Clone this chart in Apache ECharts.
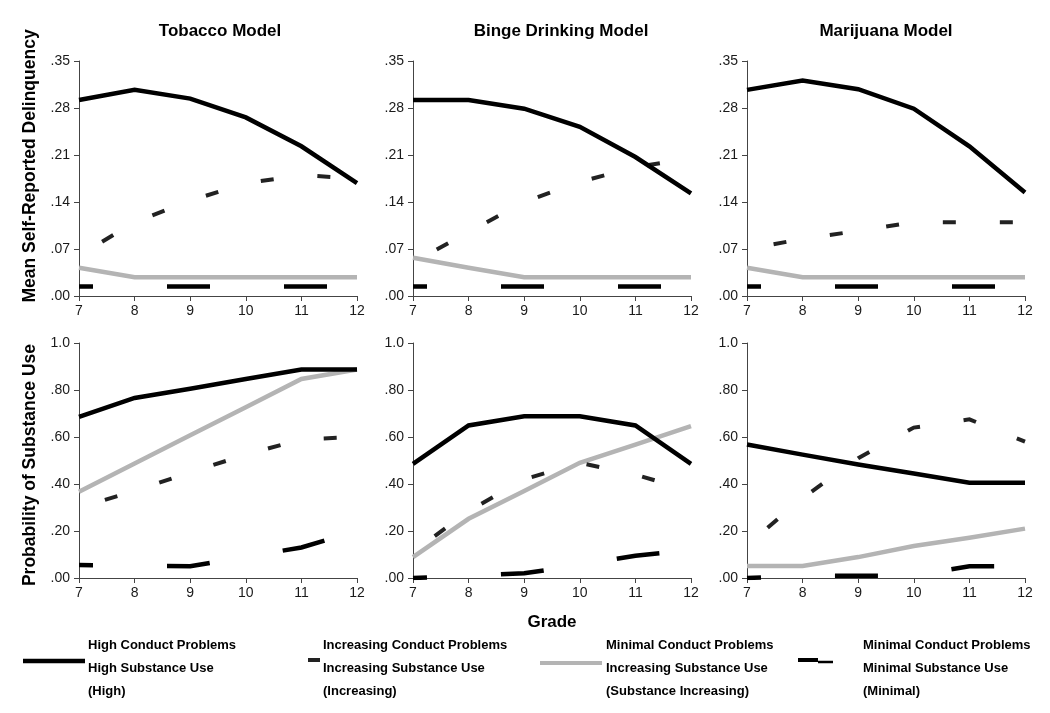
<!DOCTYPE html>
<html><head><meta charset="utf-8">
<script src="https://cdn.jsdelivr.net/npm/echarts@6/dist/echarts.min.js"></script>
<style>html,body{margin:0;padding:0;background:#fff}#c{width:1050px;height:713px}</style>
</head><body><div id="c"></div>
<script>
const grades = [7, 8, 9, 10, 11, 12];
const modelTitles = ['Tobacco Model', 'Binge Drinking Model', 'Marijuana Model'];
const yNameTop = 'Mean Self-Reported Delinquency';
const yNameBottom = 'Probability of Substance Use';
const xName = 'Grade';
const delinquencyTicks = [0, 0.07, 0.14, 0.21, 0.28, 0.35];
const probabilityTicks = [0, 0.2, 0.4, 0.6, 0.8, 1.0];

// Delinquency (top row)
const tobDelHigh = [0.292, 0.307, 0.294, 0.266, 0.223, 0.168];
const tobDelIncr = [0.060, 0.110, 0.142, 0.168, 0.180, 0.175];
const tobDelSubInc = [0.042, 0.028, 0.028, 0.028, 0.028, 0.028];
const tobDelMin = [0.014, 0.014, 0.014, 0.014, 0.014, 0.014];

const bingeDelHigh = [0.292, 0.292, 0.279, 0.252, 0.207, 0.153];
const bingeDelIncr = [0.050, 0.095, 0.140, 0.170, 0.192, 0.205];
const bingeDelSubInc = [0.057, 0.042, 0.028, 0.028, 0.028, 0.028];
const bingeDelMin = [0.014, 0.014, 0.014, 0.014, 0.014, 0.014];

const marDelHigh = [0.307, 0.321, 0.308, 0.279, 0.223, 0.154];
const marDelIncr = [0.070, 0.085, 0.097, 0.110, 0.110, 0.110];
const marDelSubInc = [0.042, 0.028, 0.028, 0.028, 0.028, 0.028];
const marDelMin = [0.014, 0.014, 0.014, 0.014, 0.014, 0.014];

// Probability of substance use (bottom row)
const tobUseHigh = [0.686, 0.766, 0.805, 0.847, 0.887, 0.887];
const tobUseIncr = [0.300, 0.370, 0.450, 0.525, 0.590, 0.600];
const tobUseSubInc = [0.367, 0.487, 0.607, 0.727, 0.847, 0.887];
const tobUseMin = [0.055, 0.052, 0.050, 0.090, 0.130, 0.200];

const bingeUseHigh = [0.486, 0.649, 0.688, 0.688, 0.649, 0.486];
const bingeUseIncr = [0.110, 0.285, 0.420, 0.490, 0.440, 0.370];
const bingeUseSubInc = [0.089, 0.252, 0.370, 0.490, 0.568, 0.646];
const bingeUseMin = [0.000, 0.010, 0.020, 0.055, 0.095, 0.120];

const marUseHigh = [0.568, 0.525, 0.483, 0.445, 0.405, 0.405];
const marUseIncr = [0.140, 0.340, 0.510, 0.640, 0.675, 0.580];
const marUseSubInc = [0.051, 0.051, 0.089, 0.136, 0.171, 0.210];
const marUseMin = [0.000, 0.010, 0.010, 0.010, 0.050, 0.050];

const legendLabels = [
  ['High Conduct Problems', 'High Substance Use', '(High)'],
  ['Increasing Conduct Problems', 'Increasing Substance Use', '(Increasing)'],
  ['Minimal Conduct Problems', 'Increasing Substance Use', '(Substance Increasing)'],
  ['Minimal Conduct Problems', 'Minimal Substance Use', '(Minimal)']
];

const panels = [
  [tobDelHigh, tobDelIncr, tobDelSubInc, tobDelMin],
  [bingeDelHigh, bingeDelIncr, bingeDelSubInc, bingeDelMin],
  [marDelHigh, marDelIncr, marDelSubInc, marDelMin],
  [tobUseHigh, tobUseIncr, tobUseSubInc, tobUseMin],
  [bingeUseHigh, bingeUseIncr, bingeUseSubInc, bingeUseMin],
  [marUseHigh, marUseIncr, marUseSubInc, marUseMin]
];

const FONT = '"Liberation Sans", Arial, sans-serif';
const lefts = [79, 413, 747];
const tops = [61, 343];
const W = 278, H = 235;

const grids = [], xAxes = [], yAxes = [], series = [];
const styles = [
  {color: '#000', width: 4.5, type: 'solid'},
  {color: '#222', width: 4, type: [13, 44], dashOffset: 30},
  {color: '#b4b4b4', width: 4.5, type: 'solid'},
  {color: '#000', width: 4.5, type: [43, 74], dashOffset: 29}
];

function fmt(v, top) {
  if (!top && Math.abs(v - 1) < 1e-9) return '1.0';
  return v.toFixed(2).replace(/^0/, '');
}

panels.forEach((p, i) => {
  const row = Math.floor(i / 3), col = i % 3;
  const top = row === 0;
  grids.push({left: lefts[col], top: tops[row], width: W, height: H, containLabel: false});
  xAxes.push({
    type: 'value', gridIndex: i, min: 7, max: 12, interval: 1,
    axisLine: {lineStyle: {color: '#444', width: 1}},
    axisTick: {show: true, length: 5, lineStyle: {color: '#444'}},
    splitLine: {show: false},
    axisLabel: {color: '#1a1a1a', fontSize: 14, fontFamily: FONT, margin: 8}
  });
  const ticks = top ? delinquencyTicks : probabilityTicks;
  yAxes.push({
    type: 'value', gridIndex: i, min: ticks[0], max: ticks[ticks.length - 1],
    interval: ticks[1] - ticks[0],
    axisLine: {show: true, lineStyle: {color: '#444', width: 1}},
    axisTick: {show: true, length: 5, lineStyle: {color: '#444'}},
    splitLine: {show: false},
    axisLabel: {color: '#1a1a1a', fontSize: 14, fontFamily: FONT, margin: 9,
      formatter: v => fmt(v, top)}
  });
  p.forEach((vals, k) => {
    const s = styles[k];
    series.push({
      type: 'line', xAxisIndex: i, yAxisIndex: i, symbol: 'none', silent: true,
      data: grades.map((g, j) => [g, vals[j]]),
      lineStyle: {color: s.color, width: s.width, type: s.type, dashOffset: s.dashOffset || 0, cap: 'butt', join: 'miter'},
      z: [4, 3, 2, 1][k]
    });
  });
});

const graphic = [];
const titleX = [220, 561, 886];
modelTitles.forEach((t, i) => graphic.push({type: 'text', x: titleX[i], y: 31,
  style: {text: t, fill: '#000', font: 'bold 17px ' + FONT, textAlign: 'center', textVerticalAlign: 'middle'}}));
graphic.push({type: 'text', x: 30, y: 166, rotation: Math.PI / 2,
  style: {text: yNameTop, fill: '#000', font: 'bold 17.5px ' + FONT, textAlign: 'center', textVerticalAlign: 'middle'}});
graphic.push({type: 'text', x: 30, y: 465, rotation: Math.PI / 2,
  style: {text: yNameBottom, fill: '#000', font: 'bold 17.5px ' + FONT, textAlign: 'center', textVerticalAlign: 'middle'}});
graphic.push({type: 'text', x: 552, y: 622,
  style: {text: xName, fill: '#000', font: 'bold 17px ' + FONT, textAlign: 'center', textVerticalAlign: 'middle'}});

// Legend
const legItems = [
  {x1: 23, x2: 85, y: 661, color: '#000', w: 4.5, tx: 88},
  {x1: 308, x2: 320, y: 660, color: '#222', w: 4, tx: 323},
  {x1: 540, x2: 602, y: 663, color: '#b4b4b4', w: 4, tx: 606},
  {x1: 798, x2: 818, y: 660, color: '#000', w: 4, tx: 863}
];
legItems.forEach((it, i) => {
  graphic.push({type: 'line', shape: {x1: it.x1, y1: it.y, x2: it.x2, y2: it.y},
    style: {stroke: it.color, lineWidth: it.w}});
  legendLabels[i].forEach((ln, j) => graphic.push({type: 'text', x: it.tx, y: 645 + j * 23,
    style: {text: ln, fill: '#000', font: 'bold 13px ' + FONT, textAlign: 'left', textVerticalAlign: 'middle'}}));
});
graphic.push({type: 'line', shape: {x1: 818, y1: 662, x2: 833, y2: 662}, style: {stroke: '#000', lineWidth: 2.5}});

const chart = echarts.init(document.getElementById('c'), null, {renderer: 'canvas'});
chart.setOption({
  animation: false, backgroundColor: '#fff',
  grid: grids, xAxis: xAxes, yAxis: yAxes, series: series, graphic: graphic
});
</script></body></html>
